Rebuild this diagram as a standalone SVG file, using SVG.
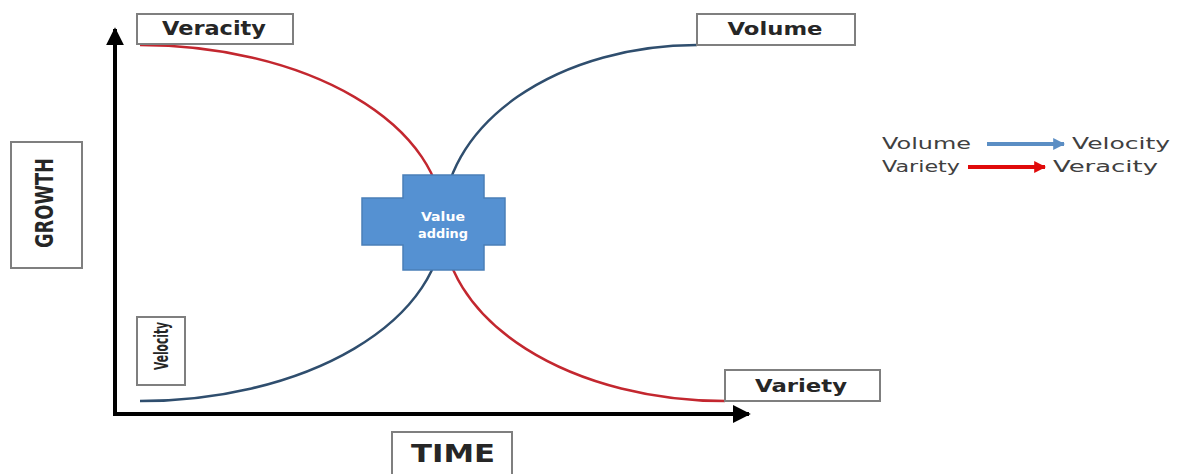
<svg xmlns="http://www.w3.org/2000/svg" width="1179" height="474" viewBox="0 0 1179 474">
  <defs>
    <style>
      .box { fill: #ffffff; stroke: #7f7f7f; stroke-width: 2; }
      .lbl { font-family: "DejaVu Sans", "Liberation Sans", sans-serif; font-weight: bold; fill: #262626; text-anchor: middle; }
      .leg { font-family: "DejaVu Sans", "Liberation Sans", sans-serif; font-size: 16px; fill: #404040; }
      .axis { stroke: #000000; stroke-width: 4; fill: none; }
      .red { stroke: #c3272f; stroke-width: 2.5; fill: none; }
      .blue { stroke: #2f4e6e; stroke-width: 2.5; fill: none; }
      .white { fill: #ffffff; }
    </style>
    <marker id="axisHead" viewBox="0 0 10 10" refX="9" refY="5" markerWidth="4.5" markerHeight="4.5" markerUnits="strokeWidth" orient="auto">
      <path d="M0,0 L10,5 L0,10 Z" fill="#000000"/>
    </marker>
    <marker id="blueHead" viewBox="0 0 10 10" refX="9" refY="5" markerWidth="3" markerHeight="3" markerUnits="strokeWidth" orient="auto">
      <path d="M0,0 L10,5 L0,10 Z" fill="#5b8ec4"/>
    </marker>
    <marker id="redHead" viewBox="0 0 10 10" refX="9" refY="5" markerWidth="3" markerHeight="3" markerUnits="strokeWidth" orient="auto">
      <path d="M0,0 L10,5 L0,10 Z" fill="#e00a0a"/>
    </marker>
  </defs>

  <!-- axes and curves -->
  <g id="connectors">
    <path class="axis" d="M115,416 L115,29" marker-end="url(#axisHead)"/>
    <path class="axis" d="M113,414 L749,414" marker-end="url(#axisHead)"/>
    <!-- red: Veracity falling to Variety -->
    <path class="red" d="M140,45 A303,177 0 0 1 443,222 A282,179 0 0 0 725,401"/>
    <!-- blue: Velocity rising to Volume -->
    <path class="blue" d="M140,401 A303,179 0 0 0 443,222 A254,177 0 0 1 697,45"/>
    <!-- legend arrows -->
    <path d="M987,144 L1064,144" stroke="#5b8ec4" stroke-width="4" fill="none" marker-end="url(#blueHead)"/>
    <path d="M968,167 L1045,167" stroke="#e00a0a" stroke-width="4" fill="none" marker-end="url(#redHead)"/>
  </g>

  <g id="veracity">
    <rect class="box" x="137" y="14" width="156" height="30"/>
    <text class="lbl" x="214" y="35" font-size="19" textLength="104" lengthAdjust="spacingAndGlyphs">Veracity</text>
  </g>

  <g id="volume">
    <rect class="box" x="697" y="14" width="158" height="31"/>
    <text class="lbl" x="775" y="35" font-size="18" textLength="95" lengthAdjust="spacingAndGlyphs">Volume</text>
  </g>

  <g id="growth">
    <rect class="box" x="11" y="142" width="71" height="126"/>
    <text class="lbl" transform="translate(53,203) rotate(-90)" font-size="24" textLength="90" lengthAdjust="spacingAndGlyphs">GROWTH</text>
  </g>

  <g id="velocity">
    <rect class="box" x="137" y="317" width="48" height="68"/>
    <text class="lbl" transform="translate(168,346) rotate(-90)" font-size="19" textLength="48" lengthAdjust="spacingAndGlyphs">Velocity</text>
  </g>

  <g id="variety">
    <rect class="box" x="725" y="370" width="155" height="31"/>
    <text class="lbl" x="801" y="392" font-size="18" textLength="92" lengthAdjust="spacingAndGlyphs">Variety</text>
  </g>

  <g id="time">
    <rect class="box" x="392" y="432" width="120" height="44"/>
    <text class="lbl" x="453" y="462" font-size="25" textLength="84" lengthAdjust="spacingAndGlyphs">TIME</text>
  </g>

  <g id="value-adding">
    <path d="M403,175 L484,175 L484,198 L505,198 L505,245 L484,245 L484,270 L403,270 L403,245 L362,245 L362,198 L403,198 Z" fill="#5591d2" stroke="#4a7fb8" stroke-width="1.5"/>
    <text class="lbl white" x="443" y="221" font-size="13" textLength="44" lengthAdjust="spacingAndGlyphs">Value</text>
    <text class="lbl white" x="443" y="238" font-size="13" textLength="50" lengthAdjust="spacingAndGlyphs">adding</text>
  </g>

  <g id="legend">
    <text class="leg" x="882" y="149" textLength="89" lengthAdjust="spacingAndGlyphs">Volume</text>
    <text class="leg" x="1072" y="149" textLength="98" lengthAdjust="spacingAndGlyphs">Velocity</text>
    <text class="leg" x="882" y="172" textLength="78" lengthAdjust="spacingAndGlyphs">Variety</text>
    <text class="leg" x="1053" y="172" textLength="105" lengthAdjust="spacingAndGlyphs">Veracity</text>
  </g>
</svg>
